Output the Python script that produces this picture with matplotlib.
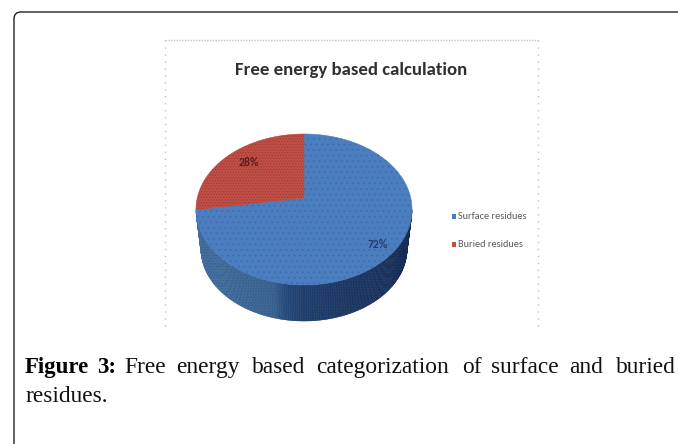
import numpy as np
import matplotlib
matplotlib.use("Agg")
import matplotlib.pyplot as plt
from matplotlib.patches import Polygon, FancyBboxPatch, Rectangle
from matplotlib.colors import LinearSegmentedColormap

title = "Free energy based calculation"
categories = ["Surface residues", "Buried residues"]
values = [72, 28]
value_labels = ["72%", "28%"]
colors = ["#4a7ebf", "#bf4e44"]
caption_bold = ["Figure", "3:"]
caption_words = ["Free", "energy", "based", "categorization", "of", "surface", "and", "buried"]
caption_line2 = "residues."

sans = ["Carlito", "DejaVu Sans"]
serif = ["Liberation Serif", "DejaVu Serif"]
plt.rcParams["font.family"] = sans
plt.rcParams["hatch.linewidth"] = 0.6
fig = plt.figure(figsize=(6.78, 4.44), dpi=100, facecolor="white")
ax = fig.add_axes([0, 0, 1, 1])
ax.set_xlim(0, 678); ax.set_ylim(444, 0); ax.axis("off")

# page box with rounded corner, running off the right and bottom edges
ax.add_patch(FancyBboxPatch((14, 12), 800, 600, boxstyle="round,pad=0,rounding_size=7",
                            fc="white", ec="#222222", lw=1.0))

# chart frame (dotted)
fx0, fx1, fy0, fy1 = 165, 538, 40, 329
ax.plot([fx0, fx1], [fy0, fy0], color="#c4c4c4", lw=1.0, ls=(0, (1, 1)))
ax.plot([fx0, fx0], [fy0, fy1], color="#c8bcc8", lw=1.0, ls=(0, (1, 4)))
ax.plot([fx1, fx1], [fy0, fy1], color="#c8bcc8", lw=1.0, ls=(0, (1, 4)))

ax.text(351, 70, title, ha="center", va="center", fontsize=13.5, weight="bold", color="#303030")

# pie geometry
cx, cy, a, b = 304, 209.5, 108, 75.5
bx, by, ba, bb = 304, 249, 103, 72     # lower rim (perspective: slightly smaller)
apx, apy = 304, 198                    # apex of the wedges
persp = 0.895                          # foreshortening of the rear sector

def ell(t):
    t = np.asarray(t)
    return cx + a * np.cos(t), cy - b * np.sin(t)

def low(t):
    t = np.asarray(t)
    return bx + ba * np.cos(t), by - bb * np.sin(t)

# side wall: strips between the rims, shaded left to right
side = LinearSegmentedColormap.from_list("s", [(0, "#44709f"), (0.36, "#38628f"),
                                               (0.41, "#264a7a"), (0.5, "#1e3c6a"),
                                               (1, "#142a50")])
ts = np.linspace(np.pi, 2 * np.pi, 181)
for t0, t1 in zip(ts[:-1], ts[1:]):
    x0, y0 = ell(t0); x1, y1 = ell(t1)
    x2, y2 = low(t1); x3, y3 = low(t0)
    ax.add_patch(Polygon([(x0, y0), (x1, y1), (x2, y2), (x3, y3)],
                         fc=side((0.5 * (x2 + x3) - (bx - ba)) / (2 * ba)),
                         ec=side((0.5 * (x2 + x3) - (bx - ba)) / (2 * ba)), lw=0.4))
wall = np.r_[np.c_[ell(ts)], np.c_[low(ts[::-1])]]
ax.add_patch(Polygon(wall, fc="none", ec="#2b4f85", lw=0, hatch="......", alpha=0.45))

# top faces: clockwise from 12 o'clock, angles from the values
start = np.pi / 2
red_span = 2 * np.pi * values[1] / sum(values) * persp
spans = [(start, start - (2 * np.pi - red_span)), (start + red_span, start)]
dots = ["#3f5fae", "#8e2f34"]
hatches = ["...", "......"]
for (t0, t1), col, dc, h in zip(spans, colors, dots, hatches):
    t = np.linspace(t0, t1, 240)
    pts = np.r_[[[apx, apy]], np.c_[ell(t)]]
    ax.add_patch(Polygon(pts, fc=col, ec=col, lw=0.4))
    ax.add_patch(Polygon(pts, fc="none", ec=dc, lw=0, hatch=h, alpha=0.55))

ax.text(378, 244, value_labels[0], ha="center", va="center", fontsize=8.5, color="#24406a", weight="bold")
ax.text(249, 162, value_labels[1], ha="center", va="center", fontsize=8.5, color="#5a1e1e", weight="bold")

# legend
for y, col, lab in zip([216, 244], colors, categories):
    ax.add_patch(Rectangle((451.5, y - 2.5), 4.5, 5.5, fc=col, ec="none"))
    ax.text(458, y, lab, ha="left", va="center", fontsize=7.4, color="#5a5a5a")

# caption: justified first line, word by word
base1, base2 = 372.7, 401.7
for x, w in zip([25, 97], caption_bold):
    ax.text(x, base1, w, fontsize=16.5, weight="bold", family=serif, color="black")
for x, w in zip([124, 176, 252, 316, 462, 491, 569, 616], caption_words):
    ax.text(x, base1, w, fontsize=16.8, family=serif, color="#111111")
ax.text(25, base2, caption_line2, fontsize=16.8, family=serif, color="#111111")

fig.savefig("out.png", dpi=100)
